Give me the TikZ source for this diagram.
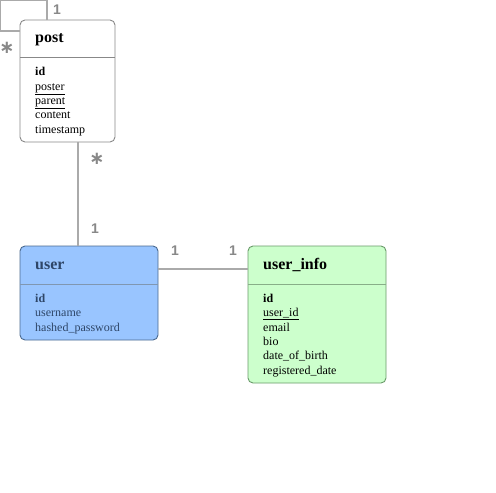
\documentclass[tikz,border=0pt]{standalone}
\usepackage{fontspec}
\setmainfont{Liberation Serif}
\newfontfamily\lblfont{Liberation Sans}
\newfontfamily\astfont{DejaVu Sans}
\definecolor{linegray}{HTML}{AAAAAA}
\definecolor{lblgray}{HTML}{888888}
\definecolor{userfill}{HTML}{99C5FF}
\definecolor{userdraw}{HTML}{4A6A90}
\definecolor{usertext}{HTML}{2E4668}
\definecolor{infofill}{HTML}{CCFFCC}
\definecolor{infodraw}{HTML}{6A9A6A}
\definecolor{postdraw}{HTML}{888888}
\begin{document}
\begin{tikzpicture}[x=1pt,y=-1pt,
  conn/.style={draw=linegray,line width=1.3pt},
  mult/.style={font=\lblfont\bfseries\fontsize{14}{16}\selectfont,text=lblgray,inner sep=0pt},
  many/.style={font=\astfont\bfseries\fontsize{18}{18}\selectfont,text=lblgray,inner sep=0pt,text height=7pt,text depth=0pt},
  head/.style={anchor=base west,inner sep=0pt,font=\bfseries\fontsize{16}{18}\selectfont},
  fld/.style={anchor=base west,inner sep=0pt,font=\fontsize{12}{14}\selectfont},
  kfld/.style={anchor=base west,inner sep=0pt,font=\bfseries\fontsize{12}{14}\selectfont},
  tbl/.style={rounded corners=5pt,line width=0.9pt}]
\useasboundingbox (0,0) rectangle (496,493);
\fill[white] (0,0) rectangle (496,493);
% boxes
\draw[tbl,draw=postdraw,fill=white] (20,20) rectangle (115,142);
\coordinate (postN) at (47,20);
\coordinate (postW) at (20,31);
\coordinate (postS) at (78,142);
\draw[postdraw,line width=0.9pt] (20,57) -- (115,57);
\draw[tbl,draw=userdraw,fill=userfill] (20,246) rectangle (158,340);
\draw[userdraw!70,line width=0.9pt] (20,284) -- (158,284);
\coordinate (userN) at (78,246);
\coordinate (userE) at (158,269);
\draw[tbl,draw=infodraw,fill=infofill] (248,246) rectangle (386,383);
\draw[infodraw!80,line width=0.9pt] (248,284) -- (386,284);
\coordinate (infoW) at (248,269);
% connectors
\coordinate (lpA) at (47,0.6);
\coordinate (lpB) at (0.6,0.6);
\coordinate (lpC) at (0.6,31);
\draw[conn] (postN) -- (lpA) -- (lpB) -- (lpC) -- (postW);
\draw[conn] (postS) -- (userN);
\draw[conn] (userE) -- (infoW);
% multiplicities
\node[mult] (m1) at (57,10) {1};
\node[many,anchor=center] (m2) at (7,49.5) {∗};
\node[many,anchor=center] (m3) at (97,160.5) {∗};
\node[mult] (m4) at (95,229) {1};
\node[mult] (m5) at (175,251) {1};
\node[mult] (m6) at (233,251) {1};
% post
\node[head] (ph) at (35,42) {post};
\node[kfld] (p1) at (35,75) {id};
\node[fld] (p2) at (35,90) {\underline{poster}};
\node[fld] (p3) at (35,104) {\underline{parent}};
\node[fld] (p4) at (35,118) {content};
\node[fld] (p5) at (35,133) {timestamp};
% user
\node[head,text=usertext] (uh) at (35,269) {user};
\node[kfld,text=usertext] (u1) at (35,302) {id};
\node[fld,text=usertext] (u2) at (35,316) {username};
\node[fld,text=usertext] (u3) at (35,331) {hashed\_password};
% user_info
\node[head] (ih) at (263,269) {user\_info};
\node[kfld] (i1) at (263,302) {id};
\node[fld] (i2) at (263,316) {\underline{user\_id}};
\node[fld] (i3) at (263,331) {email};
\node[fld] (i4) at (263,345) {bio};
\node[fld] (i5) at (263,359) {date\_of\_birth};
\node[fld] (i6) at (263,374) {registered\_date};
\end{tikzpicture}
\end{document}
